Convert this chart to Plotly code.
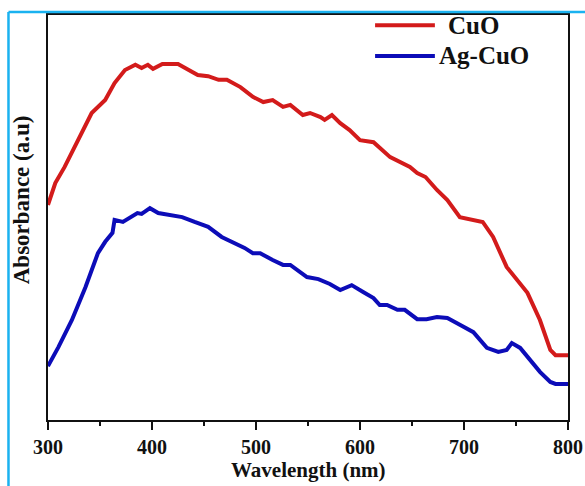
import plotly.graph_objects as go

# CuO
cuo_wl = [300, 307, 316, 329, 342, 355, 364, 374, 384, 390, 396, 401, 410, 425, 435, 444, 454, 464,
          472, 485, 497, 507, 516, 526, 533, 545, 552, 562, 566, 573, 581, 590, 600, 613, 629, 641,
          648, 655, 663, 674, 684, 696, 706, 718, 728, 741, 761, 773, 783, 788, 800]
cuo_abs = [0.531, 0.585, 0.625, 0.691, 0.758, 0.790, 0.832, 0.864, 0.877, 0.869, 0.877, 0.867, 0.879,
           0.879, 0.864, 0.852, 0.849, 0.840, 0.840, 0.822, 0.798, 0.785, 0.790, 0.773, 0.778, 0.753,
           0.758, 0.748, 0.741, 0.753, 0.733, 0.716, 0.691, 0.686, 0.649, 0.635, 0.625, 0.610, 0.600,
           0.568, 0.543, 0.501, 0.496, 0.489, 0.452, 0.378, 0.314, 0.247, 0.173, 0.160, 0.160]

# Ag-CuO
agcuo_wl = [300, 310, 323, 336, 348, 355, 362, 364, 372, 386, 390, 398, 406, 419, 429, 441, 454, 467,
            477, 489, 497, 504, 516, 526, 533, 549, 560, 571, 581, 592, 603, 613, 619, 626, 636, 643,
            655, 664, 674, 684, 696, 709, 722, 733, 741, 746, 754, 764, 773, 783, 788, 800]
agcuo_abs = [0.133, 0.180, 0.247, 0.328, 0.412, 0.440, 0.462, 0.494, 0.489, 0.511, 0.509, 0.523, 0.511,
             0.504, 0.501, 0.489, 0.477, 0.452, 0.440, 0.425, 0.412, 0.412, 0.395, 0.383, 0.383, 0.353,
             0.348, 0.336, 0.321, 0.333, 0.316, 0.301, 0.284, 0.284, 0.272, 0.272, 0.249, 0.249, 0.254,
             0.252, 0.235, 0.217, 0.178, 0.168, 0.173, 0.190, 0.178, 0.148, 0.119, 0.094, 0.089, 0.089]

x_ticks = [300, 400, 500, 600, 700, 800]
series_names = ["CuO", "Ag-CuO"]
colors = ["#d31b1b", "#0c0cb8"]

FONT = "Liberation Serif"

fig = go.Figure()
fig.add_trace(go.Scatter(x=cuo_wl, y=cuo_abs, mode="lines", name=series_names[0],
                         line=dict(color=colors[0], width=4), showlegend=False))
fig.add_trace(go.Scatter(x=agcuo_wl, y=agcuo_abs, mode="lines", name=series_names[1],
                         line=dict(color=colors[1], width=4), showlegend=False))

shapes = []
# cyan outer frame
shapes.append(dict(type="line", xref="paper", yref="paper", x0=-0.076, x1=1.1, y0=1.0074, y1=1.0074,
                   line=dict(color="#1ab2f0", width=2.5)))
shapes.append(dict(type="line", xref="paper", yref="paper", x0=-0.076, x1=-0.076, y0=1.0074, y1=-0.2,
                   line=dict(color="#1ab2f0", width=2.5)))
# manual legend
leg_y = [0.975, 0.899]
leg_tx = [0.765, 0.748]
annotations = []
for i in range(2):
    shapes.append(dict(type="line", xref="paper", yref="paper", x0=0.629, x1=0.744, y0=leg_y[i], y1=leg_y[i],
                       line=dict(color=colors[i], width=4)))
    annotations.append(dict(text="<b>%s</b>" % series_names[i], xref="paper", yref="paper",
                            x=leg_tx[i], y=leg_y[i], xanchor="left", yanchor="middle", showarrow=False,
                            font=dict(family=FONT, size=25, color="#111")))
annotations.append(dict(text="<b>Wavelength (nm)</b>", xref="paper", yref="paper", x=0.5, y=-0.124,
                        xanchor="center", yanchor="middle", showarrow=False,
                        font=dict(family=FONT, size=21, color="#111")))
annotations.append(dict(text="<b>Absorbance (a.u)</b>", xref="paper", yref="paper", x=-0.052, y=0.545,
                        xanchor="center", yanchor="middle", textangle=-90, showarrow=False,
                        font=dict(family=FONT, size=23, color="#111")))

fig.update_layout(
    width=585, height=486,
    margin=dict(l=48, r=17, t=15, b=66, autoexpand=False),
    paper_bgcolor="white", plot_bgcolor="white",
    shapes=shapes, annotations=annotations,
    xaxis=dict(range=[300, 800], tickvals=x_ticks, ticktext=["<b>%d</b>" % v for v in x_ticks],
               ticks="outside", ticklen=8, tickwidth=2, tickcolor="#111", automargin=False,
               minor=dict(dtick=50, ticks="outside", ticklen=4, tickwidth=2, tickcolor="#111", showgrid=False),
               showline=True, linecolor="#111", linewidth=2, mirror=True, showgrid=False, zeroline=False,
               tickfont=dict(family=FONT, size=20, color="#111")),
    yaxis=dict(range=[0, 1], showticklabels=False, ticks="", showline=True, linecolor="#111",
               linewidth=2, mirror=True, showgrid=False, zeroline=False, automargin=False),
)

fig.write_html("out.html")
